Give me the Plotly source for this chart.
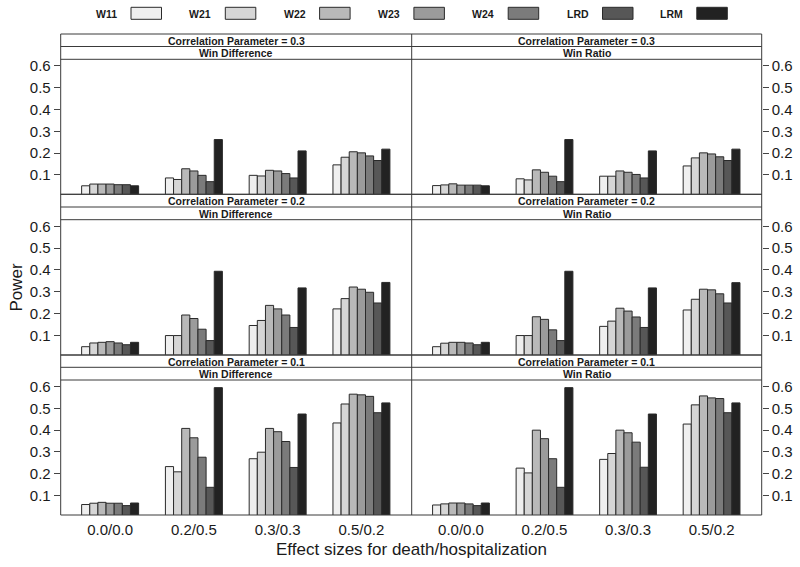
import plotly.graph_objects as go

categories = ["0.0/0.0", "0.2/0.5", "0.3/0.3", "0.5/0.2"]
series = ["W11", "W21", "W22", "W23", "W24", "LRD", "LRM"]
colors = ["#efefef", "#d6d6d6", "#b9b9b9", "#9b9b9b", "#7b7b7b", "#575757", "#222222"]
y_ticks = [0.1, 0.2, 0.3, 0.4, 0.5, 0.6]

# rows = categories, columns = series
wd_rho03 = [
    [0.050, 0.058, 0.058, 0.058, 0.055, 0.055, 0.050],
    [0.086, 0.079, 0.128, 0.118, 0.098, 0.069, 0.262],
    [0.098, 0.095, 0.121, 0.118, 0.106, 0.086, 0.210],
    [0.146, 0.181, 0.206, 0.201, 0.187, 0.166, 0.218],
]
wr_rho03 = [
    [0.051, 0.054, 0.059, 0.053, 0.053, 0.053, 0.050],
    [0.082, 0.077, 0.123, 0.112, 0.094, 0.069, 0.262],
    [0.094, 0.094, 0.118, 0.112, 0.102, 0.086, 0.210],
    [0.141, 0.178, 0.201, 0.196, 0.183, 0.166, 0.218],
]
wd_rho02 = [
    [0.049, 0.066, 0.069, 0.072, 0.066, 0.058, 0.069],
    [0.100, 0.100, 0.194, 0.178, 0.129, 0.077, 0.394],
    [0.146, 0.169, 0.238, 0.222, 0.194, 0.137, 0.318],
    [0.222, 0.269, 0.322, 0.312, 0.298, 0.249, 0.343],
]
wr_rho02 = [
    [0.049, 0.065, 0.069, 0.069, 0.066, 0.058, 0.069],
    [0.100, 0.100, 0.186, 0.174, 0.126, 0.077, 0.394],
    [0.142, 0.166, 0.225, 0.212, 0.185, 0.137, 0.318],
    [0.217, 0.266, 0.312, 0.309, 0.291, 0.249, 0.342],
]
wd_rho01 = [
    [0.059, 0.065, 0.069, 0.065, 0.065, 0.054, 0.066],
    [0.233, 0.209, 0.408, 0.365, 0.276, 0.138, 0.595],
    [0.269, 0.299, 0.408, 0.393, 0.348, 0.229, 0.474],
    [0.433, 0.520, 0.565, 0.562, 0.555, 0.480, 0.525],
]
wr_rho01 = [
    [0.057, 0.062, 0.066, 0.066, 0.062, 0.054, 0.066],
    [0.226, 0.204, 0.400, 0.361, 0.269, 0.138, 0.595],
    [0.266, 0.293, 0.400, 0.388, 0.345, 0.230, 0.474],
    [0.428, 0.516, 0.557, 0.548, 0.545, 0.480, 0.525],
]

panels = [
    ("Correlation Parameter = 0.3", "Win Difference", wd_rho03),
    ("Correlation Parameter = 0.3", "Win Ratio", wr_rho03),
    ("Correlation Parameter = 0.2", "Win Difference", wd_rho02),
    ("Correlation Parameter = 0.2", "Win Ratio", wr_rho02),
    ("Correlation Parameter = 0.1", "Win Difference", wd_rho01),
    ("Correlation Parameter = 0.1", "Win Ratio", wr_rho01),
]

W, H = 800, 567
def px_x(x):
    return x / W
def px_y(y):
    return 1 - y / H

x_left, x_mid, x_right = 60.7, 411.7, 761.7
# (strip top, strip mid, plot top, plot bottom) in pixels
rows = [(34.0, 46.5, 59.3, 194.3), (194.3, 207.0, 219.7, 355.0), (355.0, 367.3, 380.0, 515.0)]
col_x = [(x_left, x_mid), (x_mid, x_right)]

FONT = "Liberation Sans, Arial, sans-serif"
fig = go.Figure()
layout = dict(
    width=W, height=H, margin=dict(l=0, r=0, t=0, b=0, autoexpand=False),
    paper_bgcolor="white", plot_bgcolor="white",
    showlegend=False, barmode="group", bargap=0.32, bargroupgap=0,
    font=dict(family=FONT, color="#1a1a1a"),
)
shapes = []
annotations = []

for i, (strip1, strip2, data) in enumerate(panels):
    r, c = divmod(i, 2)
    st, sm, pt, pb = rows[r]
    x0, x1 = col_x[c]
    ax = "" if i == 0 else str(i + 1)
    for s_idx, name in enumerate(series):
        fig.add_trace(go.Bar(
            x=categories,
            y=[row[s_idx] for row in data],
            name=name,
            marker=dict(color=colors[s_idx], line=dict(color="#2a2a2a", width=1)),
            xaxis="x" + ax, yaxis="y" + ax,
            showlegend=False,
        ))
    layout["xaxis" + ax] = dict(
        domain=[px_x(x0), px_x(x1)], anchor="y" + ax, automargin=False,
        range=[-0.59, 3.6], showgrid=False, zeroline=False, showline=False,
        ticks="", showticklabels=(r == 2), ticklabelstandoff=4,
        tickfont=dict(size=15, color="#1a1a1a", family=FONT),
        fixedrange=True,
    )
    layout["yaxis" + ax] = dict(
        domain=[px_y(pb), px_y(pt)], anchor="x" + ax, automargin=False,
        range=[0.011, 0.63], showgrid=False, zeroline=False, showline=False,
        side="left" if c == 0 else "right",
        tickvals=y_ticks, ticktext=[f"{v:.1f}" for v in y_ticks],
        ticks="outside", ticklen=6, tickcolor="#444", tickwidth=1,
        tickfont=dict(size=15, color="#1a1a1a", family=FONT),
        fixedrange=True,
    )
    # strip texts
    annotations.append(dict(x=px_x((x0 + x1) / 2), y=px_y((st + sm) / 2 + 0.5), xref="paper", yref="paper",
                            text="<b>" + strip1 + "</b>", showarrow=False,
                            font=dict(size=10.5, family=FONT, color="#1a1a1a"),
                            xanchor="center", yanchor="middle"))
    annotations.append(dict(x=px_x((x0 + x1) / 2), y=px_y((sm + pt) / 2 + 0.5), xref="paper", yref="paper",
                            text="<b>" + strip2 + "</b>", showarrow=False,
                            font=dict(size=10.5, family=FONT, color="#1a1a1a"),
                            xanchor="center", yanchor="middle"))

line_style = dict(color="#3a3a3a", width=1)
for (st, sm, pt, pb) in rows:
    for yy in (st, sm, pt, pb):
        shapes.append(dict(type="line", xref="paper", yref="paper",
                           x0=px_x(x_left), x1=px_x(x_right), y0=px_y(yy), y1=px_y(yy),
                           line=line_style, layer="above"))
for xx in (x_left, x_mid, x_right):
    shapes.append(dict(type="line", xref="paper", yref="paper",
                       x0=px_x(xx), x1=px_x(xx), y0=px_y(rows[0][0]), y1=px_y(rows[2][3]),
                       line=line_style, layer="above"))

# custom legend: label then box
box_left0, box_step, box_w = 131.0, 94.3, 30.5
box_top, box_bot = 7.3, 19.3
for k, name in enumerate(series):
    bl = box_left0 + k * box_step
    shapes.append(dict(type="rect", xref="paper", yref="paper",
                       x0=px_x(bl), x1=px_x(bl + box_w), y0=px_y(box_bot), y1=px_y(box_top),
                       fillcolor=colors[k], line=dict(color="#2a2a2a", width=1)))
    annotations.append(dict(x=px_x(bl - 12), y=px_y((box_top + box_bot) / 2 + 0.5), xref="paper", yref="paper",
                            text="<b>" + name + "</b>", showarrow=False,
                            font=dict(size=10.5, family=FONT, color="#1a1a1a"),
                            xanchor="right", yanchor="middle"))

annotations.append(dict(x=px_x((x_left + x_right) / 2), y=px_y(549), xref="paper", yref="paper",
                        text="Effect sizes for death/hospitalization", showarrow=False,
                        font=dict(size=17, family=FONT, color="#1a1a1a"),
                        xanchor="center", yanchor="middle"))
annotations.append(dict(x=px_x(15.5), y=px_y(287), xref="paper", yref="paper",
                        text="Power", showarrow=False, textangle=-90,
                        font=dict(size=17, family=FONT, color="#1a1a1a"),
                        xanchor="center", yanchor="middle"))

layout["shapes"] = shapes
layout["annotations"] = annotations
fig.update_layout(**layout)
fig.write_html("out.html", config={"displayModeBar": False, "staticPlot": True},
               post_script="document.body.style.margin='0px';document.body.style.padding='0px';")
